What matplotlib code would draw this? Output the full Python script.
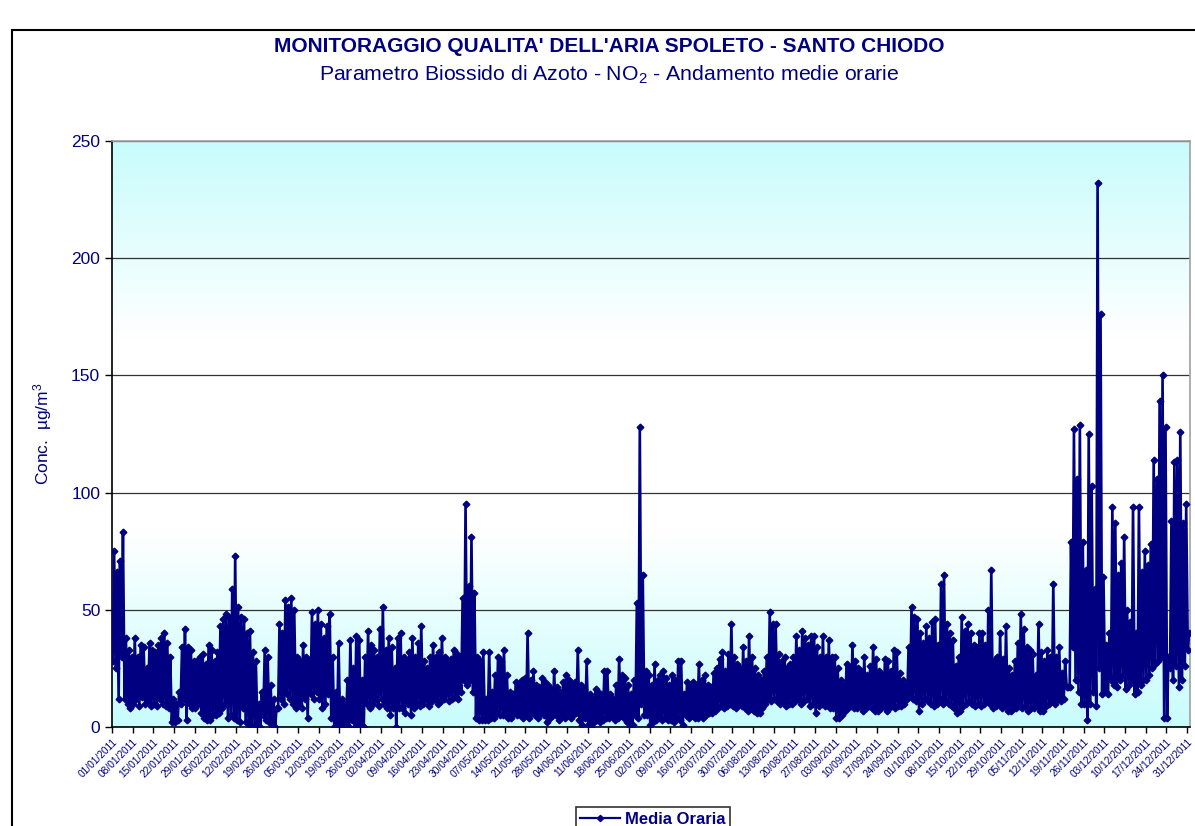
import numpy as np
import pandas as pd
import matplotlib
matplotlib.use("Agg")
import matplotlib.pyplot as plt
from matplotlib.colors import LinearSegmentedColormap
from matplotlib.lines import Line2D
from matplotlib.patches import Rectangle

plt.rcParams['font.family'] = ['Liberation Sans', 'DejaVu Sans']
plt.rcParams['mathtext.fontset'] = 'custom'
plt.rcParams['mathtext.rm'] = 'Liberation Sans'
plt.rcParams['mathtext.it'] = 'Liberation Sans:italic'
plt.rcParams['mathtext.bf'] = 'Liberation Sans:bold'

NAVY = '#000080'

# Daily maxima / minima of the hourly NO2 means (µg/m3), week by week
daily_max = [
    75, 66, 71, 83, 38, 33, 30,
    38, 30, 35, 34, 25, 36, 33,
    32, 35, 38, 40, 36, 30, 12,
    10, 15, 34, 42, 34, 33, 28,
    28, 30, 31, 27, 35, 33, 28,
    32, 43, 46, 48, 47, 59, 73,
    51, 47, 46, 40, 41, 32, 28,
    10, 15, 33, 30, 18, 12, 8,
    44, 40, 54, 51, 55, 50, 30,
    28, 35, 30, 28, 49, 44, 50,
    44, 38, 43, 48, 30, 15, 36,
    12, 10, 20, 37, 25, 39, 37,
    20, 30, 41, 35, 33, 30, 42,
    51, 33, 38, 34, 25, 38, 40,
    30, 28, 32, 38, 30, 36, 43,
    28, 25, 30, 35, 30, 32, 38,
    30, 28, 29, 33, 31, 30, 55,
    95, 60, 81, 57, 30, 28, 32,
    12, 32, 15, 22, 30, 28, 33,
    22, 15, 14, 19, 18, 20, 21,
    40, 20, 24, 18, 17, 21, 19,
    18, 16, 24, 17, 15, 19, 22,
    20, 18, 19, 33, 18, 16, 28,
    14, 12, 16, 15, 14, 24, 24,
    14, 12, 18, 29, 22, 21, 18,
    14, 20, 53, 128, 65, 24, 22,
    18, 27, 20, 22, 24, 21, 18,
    22, 20, 28, 28, 14, 19, 17,
    19, 18, 27, 20, 22, 18, 17,
    23, 25, 29, 32, 24, 31, 44,
    30, 27, 25, 34, 28, 39, 30,
    25, 22, 20, 24, 30, 49, 44,
    44, 31, 28, 30, 25, 27, 30,
    39, 33, 41, 38, 35, 39, 39,
    34, 30, 39, 30, 37, 30, 30,
    25, 20, 18, 27, 25, 35, 28,
    25, 24, 30, 22, 26, 34, 29,
    24, 22, 29, 28, 24, 33, 32,
    23, 20, 18, 34, 51, 47, 46,
    40, 36, 43, 38, 45, 46, 35,
    61, 65, 44, 40, 37, 26, 30,
    47, 41, 44, 40, 35, 34, 40,
    40, 35, 50, 67, 28, 30, 40,
    29, 43, 25, 22, 28, 36, 48,
    42, 34, 33, 31, 22, 44, 32,
    28, 33, 30, 61, 30, 34, 23,
    28, 17, 79, 127, 106, 129, 79,
    67, 125, 103, 59, 232, 176, 64,
    35, 40, 94, 87, 65, 70, 81,
    50, 45, 94, 40, 94, 66, 75,
    69, 78, 114, 106, 139, 150, 128,
    30, 88, 113, 114, 126, 87, 95,
    40,
]
daily_min = [
    28, 25, 12, 30, 12, 10, 8,
    10, 12, 9, 13, 10, 11, 9,
    10, 9, 12, 10, 9, 8, 2,
    2, 3, 10, 12, 3, 10, 8,
    8, 10, 6, 4, 3, 3, 5,
    5, 6, 8, 10, 4, 5, 4,
    3, 2, 8, 2, 1, 0, 1,
    0, 0, 5, 3, 2, 0, 0,
    8, 12, 10, 14, 12, 10, 8,
    10, 8, 12, 4, 14, 12, 15,
    12, 8, 10, 14, 4, 0, 2,
    0, 0, 2, 0, 3, 0, 0,
    0, 0, 10, 8, 10, 12, 9,
    12, 10, 8, 5, 8, 0, 8,
    8, 6, 10, 5, 8, 10, 9,
    10, 12, 9, 11, 12, 10, 11,
    12, 14, 11, 12, 13, 12, 15,
    20, 18, 20, 15, 4, 3, 3,
    3, 3, 4, 4, 6, 5, 5,
    5, 4, 4, 6, 5, 5, 4,
    5, 4, 6, 5, 4, 6, 5,
    2, 4, 5, 5, 3, 5, 4,
    5, 4, 5, 6, 3, 1, 4,
    1, 0, 2, 3, 2, 3, 4,
    4, 5, 3, 4, 5, 4, 2,
    0, 1, 5, 4, 10, 5, 5,
    1, 2, 3, 4, 3, 4, 3,
    3, 2, 4, 3, 1, 5, 4,
    5, 4, 4, 5, 4, 5, 6,
    6, 7, 8, 9, 8, 9, 10,
    9, 8, 10, 9, 8, 7, 8,
    7, 6, 6, 8, 10, 12, 11,
    12, 11, 10, 11, 9, 10, 10,
    11, 12, 10, 11, 12, 9, 10,
    6, 9, 10, 9, 10, 8, 8,
    4, 4, 5, 7, 8, 9, 8,
    8, 9, 7, 8, 9, 8, 7,
    7, 8, 9, 7, 8, 9, 8,
    9, 9, 10, 12, 14, 12, 11,
    7, 10, 12, 11, 10, 9, 10,
    12, 10, 11, 10, 9, 8, 6,
    7, 9, 10, 11, 10, 9, 10,
    9, 10, 11, 10, 8, 9, 10,
    8, 9, 7, 7, 8, 8, 9,
    8, 9, 7, 8, 8, 9, 7,
    7, 9, 10, 11, 10, 12, 11,
    12, 17, 17, 34, 20, 15, 10,
    10, 3, 10, 15, 9, 25, 14,
    15, 14, 20, 18, 17, 20, 22,
    16, 18, 20, 14, 15, 18, 20,
    20, 22, 25, 27, 28, 30, 4,
    4, 25, 20, 26, 17, 20, 26,
    33,
]

week_labels = pd.date_range('2011-01-01', '2011-12-31', freq='7D').strftime('%d/%m/%Y').tolist()

title = "MONITORAGGIO QUALITA' DELL'ARIA SPOLETO - SANTO CHIODO"
subtitle = "Parametro Biossido di Azoto - NO$_2$ - Andamento medie orarie"
ylabel = "Conc.  µg/m$^3$"
series_name = "Media Oraria"

# ---- build hourly-index series: min then max within each day ----
n_days = len(daily_max)
hours = []
values = []
for d in range(n_days):
    hours += [d * 24 + 6, d * 24 + 17]
    values += [daily_min[d], daily_max[d]]

fig = plt.figure(figsize=(11.95, 8.26), dpi=100)
ax = fig.add_axes([112 / 1195, 1 - 727 / 826, (1190 - 112) / 1195, (727 - 141) / 826])

# background gradient (cyan - white - cyan)
cmap = LinearSegmentedColormap.from_list('bg', ['#C8FCFC', '#FFFFFF', '#FFFFFF', '#C8FCFC'])
grad = np.linspace(0, 1, 256).reshape(-1, 1)
ax.imshow(grad, aspect='auto', cmap=cmap, extent=[0, 1, 0, 1],
          transform=ax.transAxes, zorder=0, interpolation='bicubic')

ax.plot(hours, values, color=NAVY, lw=1.9, marker='D', ms=3.4,
        mec=NAVY, mfc=NAVY, zorder=3)

ax.set_xlim(0, 365 * 24)
ax.set_ylim(0, 250)
ax.set_yticks(np.arange(0, 251, 50))
ax.yaxis.grid(True, color='#333333', lw=0.9)
ax.set_axisbelow(True)
ax.set_xticks(np.arange(len(week_labels)) * 168)
ax.set_xticklabels(week_labels, rotation=45, ha='right', rotation_mode='anchor',
                   fontsize=7.3, color=NAVY)
ax.tick_params(axis='y', labelsize=12.5, colors='black', labelcolor=NAVY, length=5, width=1)
ax.tick_params(axis='x', length=4, width=1, colors='black', labelcolor=NAVY, pad=3)
for lbl in ax.get_yticklabels():
    lbl.set_color(NAVY)

for s in ['left', 'bottom']:
    ax.spines[s].set_color('black')
    ax.spines[s].set_linewidth(1.2)
for s in ['top', 'right']:
    ax.spines[s].set_color('#A0A0A0')
    ax.spines[s].set_linewidth(1.2)

ax.set_ylabel(ylabel, fontsize=12.5, color=NAVY, labelpad=12)

fig.text(0.5096, 1 - 47 / 826, title, ha='center', va='center', fontsize=15,
         fontweight='bold', color=NAVY)
fig.text(0.5096, 1 - 75 / 826, subtitle, ha='center', va='center', fontsize=15.3,
         color=NAVY)

# outer chart frame
fig.add_artist(Rectangle((12 / 1195, -0.05), 1.2, 1 - 30 / 826 + 0.05,
                         transform=fig.transFigure, fill=False,
                         edgecolor='black', lw=1.5))

handle = Line2D([], [], color=NAVY, lw=1.6, marker='D', ms=3.2)
leg = fig.legend([handle], [series_name], loc='upper center',
                 bbox_to_anchor=(653 / 1195, 1 - 799 / 826), frameon=True,
                 fancybox=False, edgecolor='black', fontsize=12,
                 handlelength=2.4, borderpad=0.25, handletextpad=0.3)
leg.get_frame().set_linewidth(1.2)
for t in leg.get_texts():
    t.set_color(NAVY)
    t.set_fontweight('bold')

fig.savefig('out.png', dpi=100)
